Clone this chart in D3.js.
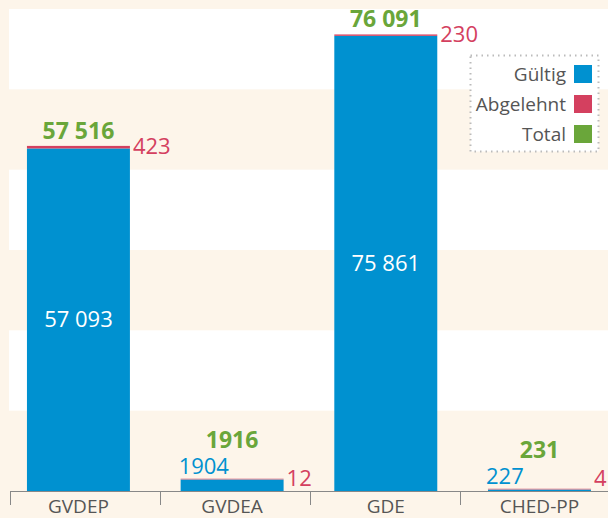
<!DOCTYPE html>
<html>
<head>
<meta charset="utf-8">
<script src="https://cdn.jsdelivr.net/npm/d3@7"></script>
<style>
  body { margin: 0; background: #fdf5ea; }
  svg { display: block; font-family: "Open Sans", sans-serif; }
</style>
</head>
<body>
<svg width="608" height="518"></svg>
<script>
var categories = ["GVDEP", "GVDEA", "GDE", "CHED-PP"],
    valid = [57093, 1904, 75861, 227],
    rejected = [423, 12, 230, 4],
    totals = [57516, 1916, 76091, 231];

var legendNames = ["Gültig", "Abgelehnt", "Total"];

var blue = "#0091d0", red = "#d4405f", green = "#6aa63a",
    cream = "#fdf5ea", grey = "#555";

var svg = d3.select("svg"),
    width = 608,
    axisY = 491;

var fmt = function(v) {
  return v >= 10000 ? d3.format(",")(v).replace(/,/g, " ") : String(v);
};

// value scale (GDE total reaches close to the top)
var y = d3.scaleLinear()
    .domain([0, 80000])
    .range([axisY, 11]);

// stripes in background
var stripe = d3.scaleLinear().domain([0, 6]).range([axisY, 9]);

svg.append("rect").attr("width", width).attr("height", 518).attr("fill", cream);

svg.selectAll(".stripe")
    .data([1, 3, 5])
  .enter().append("rect")
    .attr("x", 9)
    .attr("y", function(d) { return stripe(d + 1); })
    .attr("width", width - 9)
    .attr("height", function(d) { return stripe(d) - stripe(d + 1); })
    .attr("fill", "#fff");

var x = d3.scaleBand()
    .domain(categories)
    .range([1.6, 616.3])
    .paddingInner(0.33)
    .paddingOuter(0.165);

var xTick = d3.scaleBand()
    .domain(categories)
    .range([10, 610]);

var rows = categories.map(function(c, i) {
  return {name: c, valid: valid[i], rejected: rejected[i], total: totals[i]};
});

var g = svg.selectAll(".bar")
    .data(rows)
  .enter().append("g");

g.append("rect")
    .attr("x", function(d) { return x(d.name); })
    .attr("width", x.bandwidth())
    .attr("y", function(d) { return y(d.valid); })
    .attr("height", function(d) { return axisY - y(d.valid); })
    .attr("fill", blue);

g.append("rect")
    .attr("x", function(d) { return x(d.name); })
    .attr("width", x.bandwidth())
    .attr("y", function(d) { return Math.min(y(d.total), y(d.valid) - 1); })
    .attr("height", function(d) { return Math.max(1, y(d.valid) - y(d.total)); })
    .attr("fill", red)
    .attr("fill-opacity", function(d) { return y(d.valid) - y(d.total) < 1 ? 0.6 : 1; });

var isSmall = function(d) { return axisY - y(d.valid) < 40; };
var topOf = function(d) { return Math.min(y(d.total), y(d.valid) - 1); };

// valid labels
g.append("text")
    .attr("x", function(d) { return isSmall(d) ? x(d.name) - 2 : x(d.name) + x.bandwidth() / 2; })
    .attr("y", function(d) { return isSmall(d) ? topOf(d) - 5 : (y(d.valid) + axisY) / 2; })
    .attr("dy", function(d) { return isSmall(d) ? 0 : "0.35em"; })
    .attr("text-anchor", function(d) { return isSmall(d) ? "start" : "middle"; })
    .attr("fill", function(d) { return isSmall(d) ? blue : "#fff"; })
    .style("font-size", "22px")
    .text(function(d) { return fmt(d.valid); });

// rejected labels
g.append("text")
    .attr("x", function(d) { return x(d.name) + x.bandwidth() + 3; })
    .attr("y", function(d) { return Math.min(topOf(d), axisY - 13); })
    .attr("dy", "0.35em")
    .attr("fill", red)
    .style("font-size", "22px")
    .text(function(d) { return fmt(d.rejected); });

// total labels
g.append("text")
    .attr("x", function(d) { return x(d.name) + x.bandwidth() / 2; })
    .attr("y", function(d) { return isSmall(d) ? topOf(d) - 31 : topOf(d) - 7; })
    .attr("text-anchor", "middle")
    .attr("fill", green)
    .style("font-size", "23px")
    .style("font-weight", "bold")
    .text(function(d) { return fmt(d.total); });

// x axis
svg.append("line")
    .attr("x1", 10).attr("x2", width)
    .attr("y1", axisY + 0.5).attr("y2", axisY + 0.5)
    .attr("stroke", "#888").attr("stroke-width", 1);

svg.selectAll(".tick")
    .data(categories)
  .enter().append("line")
    .attr("x1", function(d) { return Math.round(xTick(d)) + 0.5; })
    .attr("x2", function(d) { return Math.round(xTick(d)) + 0.5; })
    .attr("y1", axisY)
    .attr("y2", axisY + 14)
    .attr("stroke", "#888");

svg.selectAll(".cat")
    .data(categories)
  .enter().append("text")
    .attr("x", function(d) { return x(d) + x.bandwidth() / 2; })
    .attr("y", 513)
    .attr("text-anchor", "middle")
    .attr("fill", grey)
    .style("font-size", "19px")
    .text(function(d) { return d; });

// legend
var legend = svg.append("g");

legend.append("rect")
    .attr("x", 470.5).attr("y", 55.5)
    .attr("width", 128).attr("height", 96)
    .attr("fill", "#fff")
    .attr("stroke", "#bbb")
    .attr("stroke-width", 2)
    .attr("stroke-dasharray", "1.5,4");

var legendColors = [blue, red, green];

var li = legend.selectAll(".item")
    .data(legendNames)
  .enter().append("g")
    .attr("transform", function(d, i) { return "translate(0," + (65 + i * 30) + ")"; });

li.append("rect")
    .attr("x", 574).attr("width", 18).attr("height", 18)
    .attr("fill", function(d, i) { return legendColors[i]; });

li.append("text")
    .attr("x", 566).attr("y", 16)
    .attr("text-anchor", "end")
    .attr("fill", grey)
    .style("font-size", "19px")
    .text(function(d) { return d; });
</script>
</body>
</html>
